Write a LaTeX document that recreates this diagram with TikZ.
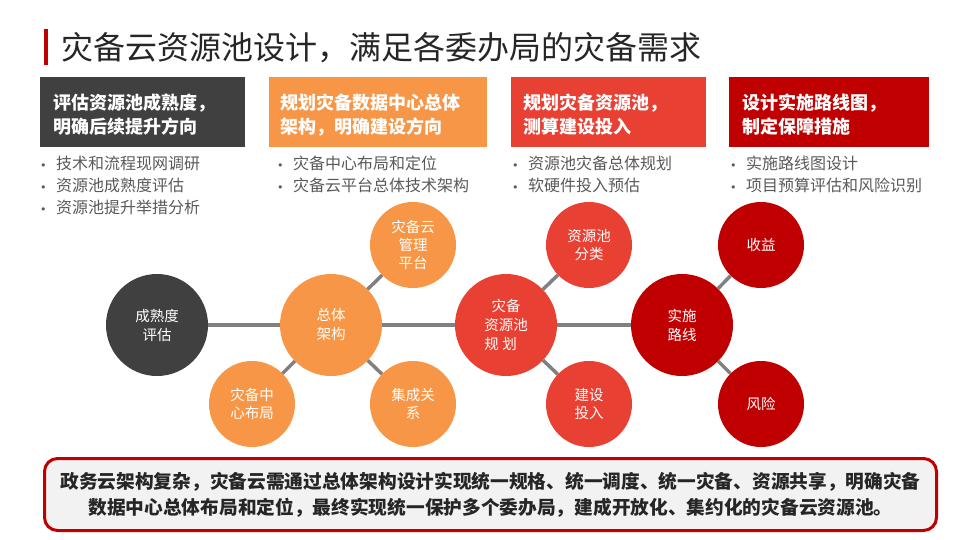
\documentclass[tikz,border=0pt]{standalone}
\usepackage{fontspec}
\setmainfont{Noto Sans CJK SC}
\newfontfamily\dvs{DejaVu Sans}
\definecolor{cgray}{HTML}{404040}
\definecolor{corange}{HTML}{F79646}
\definecolor{cred}{HTML}{E84133}
\definecolor{cdred}{HTML}{C00000}
\definecolor{ctext}{HTML}{595959}
\definecolor{cdark}{HTML}{262626}
\definecolor{cline}{HTML}{808080}
\definecolor{cbg}{HTML}{F2F2F2}
\tikzset{
  hdrbox/.style={rectangle, minimum width=#1, minimum height=70pt, anchor=north west, inner sep=0pt},
  hdrtext/.style={anchor=west, align=left, text=white, font=\fontsize{18}{24}\selectfont\bfseries, inner sep=0pt},
  bullets/.style={anchor=north west, align=left, text=ctext, font=\fontsize{16}{22}\selectfont, inner sep=0pt},
  bigc/.style={circle, minimum size=102pt, inner sep=0pt, outer sep=0pt, text=white, align=center, font=\fontsize{14.5}{19}\selectfont},
  smallc/.style={circle, minimum size=86pt, inner sep=0pt, outer sep=0pt, text=white, align=center, font=\fontsize{14.5}{18}\selectfont},
  conn/.style={draw=cline, line width=3.5pt}
}
\newcommand{\bul}[1]{\makebox[16pt][l]{{\dvs\fontsize{11}{11}\selectfont•}}#1}
\begin{document}
\begin{tikzpicture}[x=1pt,y=-1pt]
\useasboundingbox (0,0) rectangle (960,540);
% title
\fill[cdred] (44,29) rectangle (48,65);
\node[anchor=west, inner sep=0pt, text=cdark, font=\fontsize{32}{36}\selectfont] (title) at (61,48) {灾备云资源池设计，满足各委办局的灾备需求};
% header boxes
\node[hdrbox=205pt, fill=cgray] (h1) at (40,77) {};
\node[hdrbox=218pt, fill=corange] (h2) at (269,77) {};
\node[hdrbox=195pt, fill=cred] (h3) at (511,77) {};
\node[hdrbox=200pt, fill=cdred] (h4) at (729,77) {};
\node[hdrtext] (t1) at (53,115) {评估资源池成熟度，\\明确后续提升方向};
\node[hdrtext] (t2) at (280,115) {规划灾备数据中心总体\\架构，明确建设方向};
\node[hdrtext] (t3) at (523,115) {规划灾备资源池，\\测算建设投入};
\node[hdrtext] (t4) at (742,115) {设计实施路线图，\\制定保障措施};
% bullets
\node[bullets] (b1) at (40,156) {\bul{技术和流程现网调研}\\\bul{资源池成熟度评估}\\\bul{资源池提升举措分析}};
\node[bullets] (b2) at (277,156) {\bul{灾备中心布局和定位}\\\bul{灾备云平台总体技术架构}};
\node[bullets] (b3) at (512,156) {\bul{资源池灾备总体规划}\\\bul{软硬件投入预估}};
\node[bullets] (b4) at (730,156) {\bul{实施路线图设计}\\\bul{项目预算评估和风险识别}};
% circles
\node[bigc, fill=cgray] (A) at (157,325) {成熟度\\评估};
\node[bigc, fill=corange] (B) at (331,325) {总体\\架构};
\node[bigc, fill=cred] (C) at (506,325) {灾备\\资源池\\\makebox[3em][l]{规\hspace{0.25em}划}};
\node[bigc, fill=cdred] (D) at (682,325) {实施\\路线};
\node[smallc, fill=corange] (B1) at (413,245) {灾备云\\管理\\平台};
\node[smallc, fill=corange] (B2) at (252,404) {灾备中\\心布局};
\node[smallc, fill=corange] (B3) at (413,404) {集成关\\系};
\node[smallc, fill=cred] (C1) at (589,245) {资源池\\分类};
\node[smallc, fill=cred] (C2) at (589,404) {建设\\投入};
\node[smallc, fill=cdred] (D1) at (761,245) {收益};
\node[smallc, fill=cdred] (D2) at (761,404) {风险};
% connectors
\draw[conn] (A) -- (B);
\draw[conn] (B) -- (C);
\draw[conn] (C) -- (D);
\draw[conn] (B) -- (B1);
\draw[conn] (B) -- (B2);
\draw[conn] (B) -- (B3);
\draw[conn] (C) -- (C1);
\draw[conn] (C) -- (C2);
\draw[conn] (D) -- (D1);
\draw[conn] (D) -- (D2);
% bottom box
\node[draw=cdred, fill=cbg, line width=3pt, rounded corners=13pt, minimum width=892pt, minimum height=72pt, inner sep=0pt, anchor=north west] (box) at (43,457) {};
\node[align=center, text=cdark, font=\fontsize{18.7}{26}\selectfont\bfseries, inner sep=0pt] (boxtext) at (box.center) {政务云架构复杂，灾备云需通过总体架构设计实现统一规格、统一调度、统一灾备、资源共享，明确灾备\\数据中心总体布局和定位，最终实现统一保护多个委办局，建成开放化、集约化的灾备云资源池。};
\end{tikzpicture}
\end{document}
